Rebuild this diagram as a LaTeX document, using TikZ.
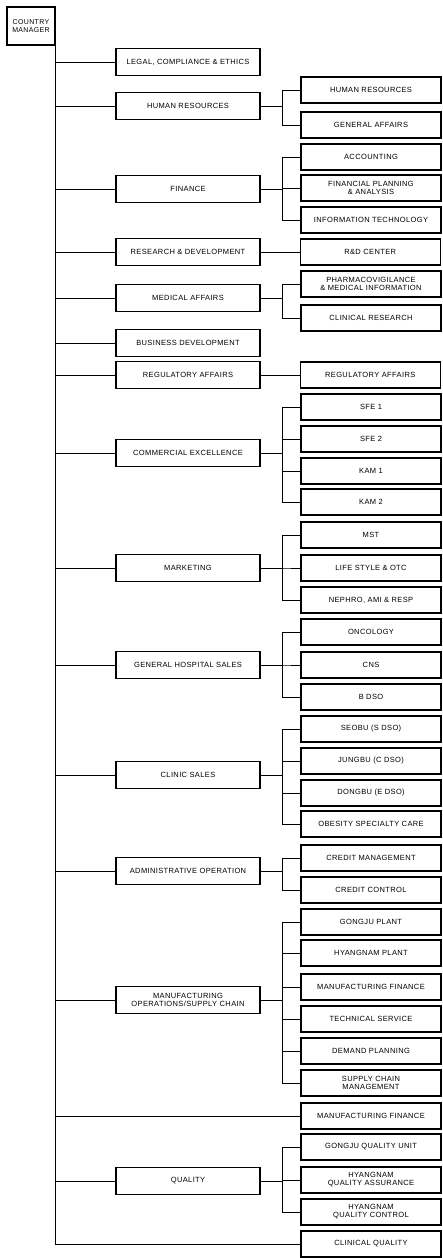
\documentclass[tikz,border=0pt]{standalone}
\usepackage{fontspec}
\setmainfont{Liberation Sans}[LetterSpace=5]
\usetikzlibrary{positioning}
\tikzset{
    % Top box
    head/.style={
        rectangle,
        minimum width=48pt,
        minimum height=38pt,
        inner sep=1pt,
        align=center,
        draw=black,
        fill=white,
        line width=1.2pt,
        font=\fontsize{7}{8}\selectfont
    },
    % First level units
    unit/.style={
        rectangle,
        minimum width=144pt,
        minimum height=27pt,
        inner sep=1pt,
        align=center,
        draw=black,
        fill=white,
        line width=1.2pt,
        font=\fontsize{7.5}{8}\selectfont
    },
    % Second level teams
    team/.style={
        rectangle,
        minimum width=140pt,
        minimum height=26pt,
        inner sep=1pt,
        align=center,
        draw=black,
        fill=white,
        line width=1.2pt,
        font=\fontsize{7.5}{8}\selectfont
    },
    % Connector
    link/.style={
        line width=0.9pt,
        draw=black
    }
}

\begin{document}
\begin{tikzpicture}[x=1pt, y=-1pt]

    \useasboundingbox (0,0) rectangle (443,1258);

    % ========== TOP ==========
    \node[head] (cm) at (31,26) {COUNTRY\\MANAGER};

    % ========== FIRST LEVEL ==========
    \node[unit] (legal) at (188,62) {LEGAL, COMPLIANCE \& ETHICS};
    \node[unit] (hr) at (188,106) {HUMAN RESOURCES};
    \node[unit] (fin) at (188,189) {FINANCE};
    \node[unit] (rnd) at (188,252) {RESEARCH \& DEVELOPMENT};
    \node[unit] (med) at (188,298) {MEDICAL AFFAIRS};
    \node[unit] (bizdev) at (188,343) {BUSINESS DEVELOPMENT};
    \node[unit] (reg) at (188,375) {REGULATORY AFFAIRS};
    \node[unit] (comex) at (188,453) {COMMERCIAL EXCELLENCE};
    \node[unit] (mkt) at (188,568) {MARKETING};
    \node[unit] (ghs) at (188,665) {GENERAL HOSPITAL SALES};
    \node[unit] (clinic) at (188,775) {CLINIC SALES};
    \node[unit] (admin) at (188,871) {ADMINISTRATIVE OPERATION};
    \node[unit] (mfg) at (188,1000) {MANUFACTURING\\OPERATIONS/SUPPLY CHAIN};
    \node[unit] (qual) at (188,1181) {QUALITY};

    % ========== SECOND LEVEL ==========
    \node[team] (hrm) at (371,90) {HUMAN RESOURCES};
    \node[team] (ga) at (371,125) {GENERAL AFFAIRS};

    \node[team] (acc) at (371,157) {ACCOUNTING};
    \node[team] (fpa) at (371,188) {FINANCIAL PLANNING\\\& ANALYSIS};
    \node[team] (it) at (371,220) {INFORMATION TECHNOLOGY};

    \node[team, right=39pt of rnd] (rndc) {R\&D CENTER};

    \node[team] (pv) at (371,284) {PHARMACOVIGILANCE\\\& MEDICAL INFORMATION};
    \node[team] (cr) at (371,318) {CLINICAL RESEARCH};

    \node[team, right=39pt of reg] (rega) {REGULATORY AFFAIRS};

    \node[team] (sfea) at (371,407) {SFE 1};
    \node[team] (sfeb) at (371,439) {SFE 2};
    \node[team] (kama) at (371,471) {KAM 1};
    \node[team] (kamb) at (371,502) {KAM 2};

    \node[team] (mst) at (371,535) {MST};
    \node[team] (life) at (371,568) {LIFE STYLE \& OTC};
    \node[team] (neph) at (371,600) {NEPHRO, AMI \& RESP};

    \node[team] (onc) at (371,632) {ONCOLOGY};
    \node[team] (cns) at (371,665) {CNS};
    \node[team] (bdso) at (371,697) {B DSO};

    \node[team] (seobu) at (371,729) {SEOBU (S DSO)};
    \node[team] (jungbu) at (371,761) {JUNGBU (C DSO)};
    \node[team] (dongbu) at (371,793) {DONGBU (E DSO)};
    \node[team] (obes) at (371,824) {OBESITY SPECIALTY CARE};

    \node[team] (credm) at (371,858) {CREDIT MANAGEMENT};
    \node[team] (credc) at (371,890) {CREDIT CONTROL};

    \node[team] (gplant) at (371,922) {GONGJU PLANT};
    \node[team] (hplant) at (371,953) {HYANGNAM PLANT};
    \node[team] (mfina) at (371,987) {MANUFACTURING FINANCE};
    \node[team] (tech) at (371,1019) {TECHNICAL SERVICE};
    \node[team] (demand) at (371,1051) {DEMAND PLANNING};
    \node[team] (scm) at (371,1083) {SUPPLY CHAIN\\MANAGEMENT};

    \node[team] (mfinb) at (371,1116) {MANUFACTURING FINANCE};

    \node[team] (gqu) at (371,1147) {GONGJU QUALITY UNIT};
    \node[team] (hqa) at (371,1180) {HYANGNAM\\QUALITY ASSURANCE};
    \node[team] (hqc) at (371,1212) {HYANGNAM\\QUALITY CONTROL};

    \node[team] (cq) at (371,1244) {CLINICAL QUALITY};

    % ========== CONNECTIONS ==========

    % Trunk
    \draw[link] (cm.south east) |- (legal.west);
    \draw[link] (cm.south east) |- (hr.west);
    \draw[link] (cm.south east) |- (fin.west);
    \draw[link] (cm.south east) |- (rnd.west);
    \draw[link] (cm.south east) |- (med.west);
    \draw[link] (cm.south east) |- (bizdev.west);
    \draw[link] (cm.south east) |- (reg.west);
    \draw[link] (cm.south east) |- (comex.west);
    \draw[link] (cm.south east) |- (mkt.west);
    \draw[link] (cm.south east) |- (ghs.west);
    \draw[link] (cm.south east) |- (clinic.west);
    \draw[link] (cm.south east) |- (admin.west);
    \draw[link] (cm.south east) |- (mfg.west);
    \draw[link] (cm.south east) |- (mfinb.west);
    \draw[link] (cm.south east) |- (qual.west);
    \draw[link] (cm.south east) |- (cq.west);

    % Human resources
    \draw[link] (hr.east) -- ++(22,0) |- (hrm.west);
    \draw[link] (hr.east) -- ++(22,0) |- (ga.west);

    % Finance
    \draw[link] (fin.east) -- ++(22,0) |- (acc.west);
    \draw[link] (fin.east) -- ++(22,0) |- (fpa.west);
    \draw[link] (fin.east) -- ++(22,0) |- (it.west);

    % Single teams
    \draw[link] (rnd) -- (rndc);
    \draw[link] (reg) -- (rega);

    % Medical affairs
    \draw[link] (med.east) -- ++(22,0) |- (pv.west);
    \draw[link] (med.east) -- ++(22,0) |- (cr.west);

    % Commercial excellence
    \draw[link] (comex.east) -- ++(22,0) |- (sfea.west);
    \draw[link] (comex.east) -- ++(22,0) |- (sfeb.west);
    \draw[link] (comex.east) -- ++(22,0) |- (kama.west);
    \draw[link] (comex.east) -- ++(22,0) |- (kamb.west);

    % Marketing
    \draw[link] (mkt.east) -- ++(22,0) |- (mst.west);
    \draw[link] (mkt.east) -- ++(22,0) |- (life.west);
    \draw[link] (mkt.east) -- ++(22,0) |- (neph.west);

    % General hospital sales
    \draw[link] (ghs.east) -- ++(22,0) |- (onc.west);
    \draw[link] (ghs.east) -- ++(22,0) |- (cns.west);
    \draw[link] (ghs.east) -- ++(22,0) |- (bdso.west);

    % Clinic sales
    \draw[link] (clinic.east) -- ++(22,0) |- (seobu.west);
    \draw[link] (clinic.east) -- ++(22,0) |- (jungbu.west);
    \draw[link] (clinic.east) -- ++(22,0) |- (dongbu.west);
    \draw[link] (clinic.east) -- ++(22,0) |- (obes.west);

    % Administrative operation
    \draw[link] (admin.east) -- ++(22,0) |- (credm.west);
    \draw[link] (admin.east) -- ++(22,0) |- (credc.west);

    % Manufacturing
    \draw[link] (mfg.east) -- ++(22,0) |- (gplant.west);
    \draw[link] (mfg.east) -- ++(22,0) |- (hplant.west);
    \draw[link] (mfg.east) -- ++(22,0) |- (mfina.west);
    \draw[link] (mfg.east) -- ++(22,0) |- (tech.west);
    \draw[link] (mfg.east) -- ++(22,0) |- (demand.west);
    \draw[link] (mfg.east) -- ++(22,0) |- (scm.west);

    % Quality
    \draw[link] (qual.east) -- ++(22,0) |- (gqu.west);
    \draw[link] (qual.east) -- ++(22,0) |- (hqa.west);
    \draw[link] (qual.east) -- ++(22,0) |- (hqc.west);

\end{tikzpicture}
\end{document}
